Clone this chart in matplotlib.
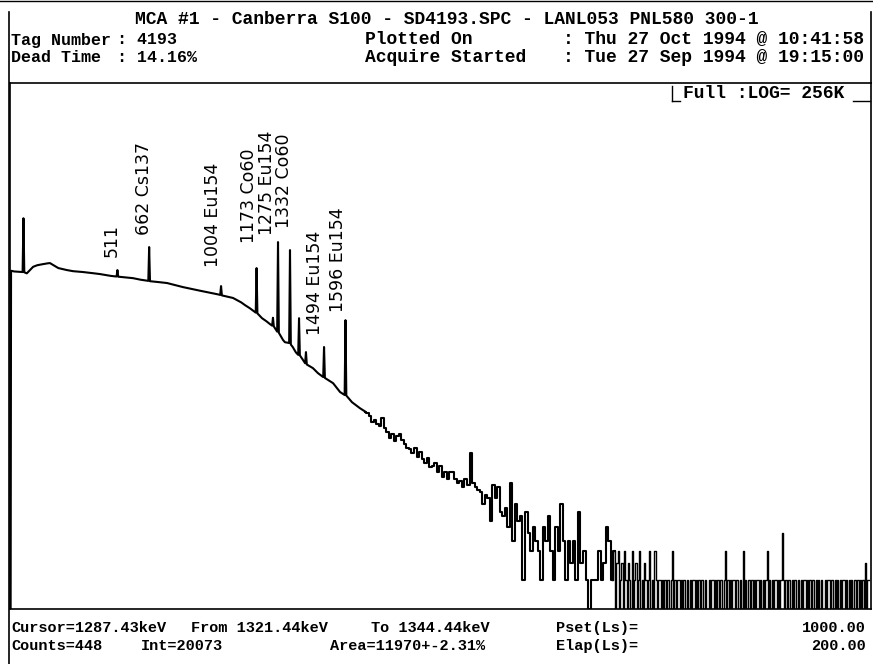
import numpy as np
import matplotlib
matplotlib.use('Agg')
import matplotlib.pyplot as plt
from matplotlib.lines import Line2D

W, H = 873, 664

# spectrum below 1700 keV, read point by point (peaks are narrow spikes)
main_kev = [0, 3, 5, 20, 40, 60, 64, 68, 80, 95, 110, 130, 157, 180, 190, 205,
            230, 271, 300, 347, 400, 428, 480, 507, 511, 515, 585, 620, 658, 662,
            666, 700, 747, 823, 904, 985, 1000, 1004, 1008, 1061, 1100, 1118, 1142,
            1169, 1173, 1177, 1199, 1220, 1237, 1247, 1251, 1255, 1271, 1275, 1279,
            1299, 1308, 1328, 1332, 1336, 1345, 1360, 1371, 1375, 1379, 1394, 1404,
            1408, 1412, 1441, 1465, 1490, 1494, 1498, 1537, 1570, 1592, 1596, 1600,
            1627, 1665, 1690]
main_counts = [1, 1, 3050, 3000, 2980, 2960, 10600, 2940, 2870, 3100, 3350, 3480,
               3570, 3640, 3660, 3500, 3250, 3100, 3020, 2960, 2870, 2820, 2700,
               2660, 3100, 2650, 2560, 2470, 2400, 5350, 2380, 2340, 2280, 2070,
               1900, 1750, 1720, 2120, 1700, 1600, 1440, 1350, 1250, 1130, 3250,
               1110, 990, 920, 860, 830, 1000, 815, 720, 6020, 700, 590, 560, 550,
               4980, 530, 500, 440, 415, 990, 410, 367, 340, 443, 330, 303, 269,
               245, 500, 240, 212, 172, 160, 945, 158, 135, 117, 108]

# 1700-2870 keV: one value per 12 keV bin
noise_start_kev = 1700
noise_step_kev = 12
noise_counts = [105, 98, 84, 88, 80, 76, 92, 74, 66, 58, 64, 54, 60, 63, 55, 50,
                46, 44, 40, 46, 37, 41, 35, 32, 36, 29, 30, 32, 26, 30, 23, 26, 22,
                26, 26, 22, 20, 21, 18, 22, 19, 40, 20, 18, 17, 16, 12, 15, 14, 8,
                19, 14, 18, 10, 9, 11, 7, 20, 5, 12, 8, 9, 2, 10, 6, 4, 7, 5, 4, 2,
                7, 5, 9, 4, 2, 7, 4, 12, 5, 2, 5, 3, 5, 2, 10, 3, 4, 2, 1, 2, 2, 2,
                4, 2, 3, 7, 5, 2]

# 2876 keV to the end: one value per 6 keV bin
tail_start_kev = 2876
tail_step_kev = 6
tail_counts = [4, 1, 3, 4, 1, 2, 3, 1, 4, 2,
               1, 3, 2, 1, 4, 1, 2, 3, 1, 2,
               4, 1, 2, 1, 3, 2, 1, 2, 4, 1,
               2, 1, 4, 2, 1, 2, 2, 1, 2, 1,
               2, 1, 2, 2, 1, 2, 4, 1, 2, 1,
               2, 2, 1, 2, 1, 2, 1, 1, 2, 1,
               2, 1, 2, 2, 1, 2, 1, 2, 1, 2,
               2, 1, 2, 1, 1, 2, 1, 2, 2, 1,
               2, 1, 2, 1, 2, 2, 1, 2, 4, 1,
               2, 1, 2, 1, 2, 2, 1, 2, 1, 1,
               2, 1, 4, 1, 2, 1, 2, 2, 1, 2,
               1, 2, 1, 2, 2, 1, 2, 1, 2, 1,
               2, 4, 1, 2, 1, 2, 1, 2, 2, 1,
               2, 1, 2, 6, 2, 1, 2, 1, 2, 2,
               1, 2, 1, 2, 1, 1, 2, 1, 2, 1,
               2, 2, 1, 2, 1, 2, 1, 2, 2, 1,
               2, 1, 2, 1, 2, 1, 1, 2, 1, 2,
               2, 1, 2, 2, 1, 2, 1, 2, 1, 2,
               1, 2, 2, 1, 2, 1, 2, 1, 2, 1,
               2, 2, 1, 2, 1, 2, 1, 2, 1, 3,
               1, 2, 2]

peak_kev = [511, 662, 1004, 1173, 1275, 1332, 1494, 1596]
peak_labels = ['511', '662 Cs137', '1004 Eu154', '1173 Co60', '1275 Eu154',
               '1332 Co60', '1494 Eu154', '1596 Eu154']
# label offsets from the peak top, in pixels
label_dx = [-6, -5, -8, -8, -11, -6, -9, -7]
label_dy = [13, 12, 19, 25, 7, 22, 12, 8]

title = 'MCA #1 - Canberra S100 - SD4193.SPC - LANL053 PNL580 300-1'
header_keys = ['Tag Number', 'Dead Time']
header_vals = [': 4193', ': 14.16%']
info_keys = ['Plotted On', 'Acquire Started']
info_vals = [': Thu 27 Oct 1994 @ 10:41:58', ': Tue 27 Sep 1994 @ 19:15:00']
footer_rows = [
    [(11, 'Cursor=1287.43keV'), (191, 'From 1321.44keV'), (371, 'To 1344.44keV'),
     (556, 'Pset(Ls)=')],
    [(11, 'Counts=448'), (141, 'Int=20073'), (330, 'Area=11970+-2.31%'),
     (556, 'Elap(Ls)=')],
]
footer_values = ['1000.00', '200.00']
scale_text = 'Full :LOG= 256K'

mono = dict(family=['Liberation Mono', 'DejaVu Sans Mono'], fontsize=13,
            fontweight='bold', color='black')


def px(x, y):
    return x / W, 1 - y / H


def put(x, y, s, **kw):
    fx, fy = px(x, y)
    fig.text(fx, fy, s, va='center', **{**mono, **kw})


def hline(x0, x1, y, lw=1.2):
    (a, b), (c, d) = px(x0, y), px(x1, y)
    fig.add_artist(Line2D([a, c], [b, d], color='k', lw=lw))


def vline(x, y0, y1, lw=1.2):
    (a, b), (c, d) = px(x, y0), px(x, y1)
    fig.add_artist(Line2D([a, c], [b, d], color='k', lw=lw))


fig = plt.figure(figsize=(W / 100, H / 100), dpi=100)
ax = fig.add_axes([10 / W, 1 - 609 / H, 861 / W, (609 - 83) / H])

noise_kev = noise_start_kev + noise_step_kev * np.arange(len(noise_counts))
tail_kev = tail_start_kev + tail_step_kev * np.arange(len(tail_counts))

ax.plot(main_kev, main_counts, color='k', lw=1.5)
ax.plot(np.r_[main_kev[-1], noise_kev, tail_kev[0]],
        np.r_[main_counts[-1], noise_counts, tail_counts[0]],
        color='k', lw=1.5, drawstyle='steps-mid')
ax.plot(np.r_[noise_kev[-1], tail_kev], np.r_[noise_counts[-1], tail_counts],
        color='k', lw=1.0, drawstyle='steps-mid')

ax.set_yscale('log')
ax.set_xlim(0, 4096)
ax.set_ylim(1, 262144)
ax.set_xticks([])
ax.set_yticks([])
ax.minorticks_off()
for s in ax.spines.values():
    s.set_linewidth(1.2)

for e, lab, dx, dy in zip(peak_kev, peak_labels, label_dx, label_dy):
    top = main_counts[main_kev.index(e)]
    ax.annotate(lab, (e, top), xytext=(dx, dy), textcoords='offset pixels',
                rotation=90, ha='center', va='bottom', fontsize=12.5,
                family='DejaVu Sans', color='k')

# frame around header and footer
hline(0, W, 1, lw=1.0)
vline(9, 12, H)
vline(871, 12, 83)

put(447, 20, title, ha='center')
for i in range(2):
    y = 40 + 18 * i
    put(11, y, header_keys[i], ha='left', fontsize=12)
    put(117, y, header_vals[i], ha='left', fontsize=12)
    put(365, y, info_keys[i], ha='left')
    put(864, y, info_vals[i], ha='right')

# range tab in the plot corner
put(683, 93, scale_text, ha='left')
vline(672, 86, 101, lw=1.0)
hline(672, 680, 101, lw=1.0)
hline(853, 870, 101, lw=1.0)

for i, row in enumerate(footer_rows):
    for x, s in row:
        put(x, 628 + 18 * i, s, ha='left', fontsize=11)
    put(866, 628 + 18 * i, footer_values[i], ha='right', fontsize=11)

fig.savefig('out.png', dpi=100)
